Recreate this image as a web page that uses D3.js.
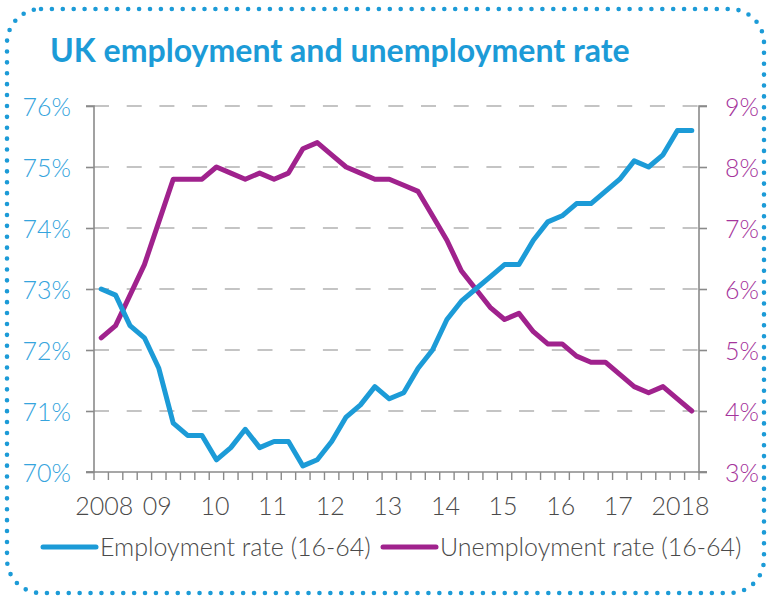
<!DOCTYPE html>
<html>
<head>
<meta charset="utf-8">
<script src="https://cdn.jsdelivr.net/npm/d3@7"></script>
<style>
  html, body { margin: 0; padding: 0; background: #fff; }
  svg { display: block; }
  text { font-family: Lato, "Open Sans", sans-serif; }
</style>
</head>
<body>
<svg id="chart" width="771" height="597"></svg>
<script>
// Quarterly series, 2008 Q1 onwards (42 quarters)
const employmentRate = [
  73.0, 72.9, 72.4, 72.2, 71.7, 70.8, 70.6, 70.6, 70.2, 70.4,
  70.7, 70.4, 70.5, 70.5, 70.1, 70.2, 70.5, 70.9, 71.1, 71.4,
  71.2, 71.3, 71.7, 72.0, 72.5, 72.8, 73.0, 73.2, 73.4, 73.4,
  73.8, 74.1, 74.2, 74.4, 74.4, 74.6, 74.8, 75.1, 75.0, 75.2,
  75.6, 75.6
];
const unemploymentRate = [
  5.2, 5.4, 5.9, 6.4, 7.1, 7.8, 7.8, 7.8, 8.0, 7.9,
  7.8, 7.9, 7.8, 7.9, 8.3, 8.4, 8.2, 8.0, 7.9, 7.8,
  7.8, 7.7, 7.6, 7.2, 6.8, 6.3, 6.0, 5.7, 5.5, 5.6,
  5.3, 5.1, 5.1, 4.9, 4.8, 4.8, 4.6, 4.4, 4.3, 4.4,
  4.2, 4.0
];
const quarters = d3.range(employmentRate.length);
const yearLabels = ["2008", "09", "10", "11", "12", "13", "14", "15", "16", "17", "2018"];
const leftTicks = [70, 71, 72, 73, 74, 75, 76];
const rightTicks = [3, 4, 5, 6, 7, 8, 9];
const seriesNames = ["Employment rate (16-64)", "Unemployment rate (16-64)"];

const BLUE = "#1c9bd7";
const PURPLE = "#a0228d";
const AXIS = "#8a8a8a";
const GRID = "#c4c4c4";
const TEXT = "#4a4a4a";

const svg = d3.select("#chart");
const margin = { left: 94, right: 72, top: 106, bottom: 125 };
const W = 771, H = 597;

// Dotted rounded frame
svg.append("rect")
  .attr("x", 7).attr("y", 9)
  .attr("width", W - 14).attr("height", H - 13)
  .attr("rx", 34).attr("ry", 34)
  .attr("fill", "none")
  .attr("stroke", BLUE)
  .attr("stroke-width", 4.6)
  .attr("stroke-linecap", "round")
  .attr("stroke-dasharray", "0,10.9");

// Title, sized to span its block
const title = svg.append("text")
  .attr("x", 50).attr("y", 62)
  .attr("fill", BLUE)
  .attr("font-weight", 700)
  .attr("font-size", 32)
  .text("UK employment and unemployment rate");
const tw = title.node().getComputedTextLength();
title.attr("font-size", 32 * 580 / tw);

const x = d3.scaleBand()
  .domain(quarters)
  .range([margin.left, W - margin.right])
  .paddingInner(0).paddingOuter(0);
const yL = d3.scaleLinear().domain([70, 76]).range([H - margin.bottom, margin.top]);
const yR = d3.scaleLinear().domain([3, 9]).range([H - margin.bottom, margin.top]);
const cx = i => x(i) + x.bandwidth() / 2;

const x0 = margin.left, x1 = W - margin.right;

// Dashed horizontal gridlines
svg.append("g").selectAll("line")
  .data(leftTicks.filter(t => t > 70))
  .join("line")
  .attr("x1", x0).attr("x2", x1)
  .attr("y1", d => yL(d)).attr("y2", d => yL(d))
  .attr("stroke", GRID)
  .attr("stroke-width", 2)
  .attr("stroke-dasharray", "15,17.7");

// Left axis
const leftAxis = svg.append("g")
  .attr("transform", `translate(${x0},0)`)
  .call(d3.axisLeft(yL).tickValues(leftTicks).tickSize(8).tickFormat(d => d + "%"));
leftAxis.select(".domain").attr("stroke", AXIS).attr("stroke-width", 1.6).attr("d", `M-8,${yL(76)}H0V${yL(70)}H-8`);
leftAxis.selectAll(".tick line").attr("stroke", AXIS).attr("stroke-width", 1.6);
leftAxis.selectAll(".tick text")
  .attr("x", -23).attr("dy", "0.36em")
  .attr("fill", "#35a4dd")
  .attr("font-size", 25).attr("font-weight", 300)
  .attr("font-family", "Lato, sans-serif");

// Right axis
const rightAxis = svg.append("g")
  .attr("transform", `translate(${x1},0)`)
  .call(d3.axisRight(yR).tickValues(rightTicks).tickSize(8).tickFormat(d => d + "%"));
rightAxis.select(".domain").attr("stroke", AXIS).attr("stroke-width", 1.6).attr("d", `M8,${yR(9)}H0V${yR(3)}H8`);
rightAxis.selectAll(".tick line").attr("stroke", AXIS).attr("stroke-width", 1.6);
rightAxis.selectAll(".tick text")
  .attr("x", 26).attr("dy", "0.36em")
  .attr("fill", "#a5349c")
  .attr("font-size", 25).attr("font-weight", 300)
  .attr("font-family", "Lato, sans-serif");

// Bottom axis with quarterly ticks at band edges
const bottom = svg.append("g");
bottom.append("line")
  .attr("x1", x0 - 8).attr("x2", x1 + 8)
  .attr("y1", yL(70)).attr("y2", yL(70))
  .attr("stroke", AXIS).attr("stroke-width", 1.6);
bottom.selectAll("line.qt")
  .data(d3.range(quarters.length + 1))
  .join("line")
  .attr("class", "qt")
  .attr("x1", i => x0 + i * x.bandwidth())
  .attr("x2", i => x0 + i * x.bandwidth())
  .attr("y1", yL(70)).attr("y2", yL(70) + 8)
  .attr("stroke", AXIS).attr("stroke-width", 1.4);
bottom.selectAll("text")
  .data(yearLabels)
  .join("text")
  .attr("x", (d, k) => cx(k * 4) + (d.length > 2 ? 3 : -1.5))
  .attr("y", 515)
  .attr("text-anchor", "middle")
  .attr("fill", TEXT)
  .attr("font-size", 25).attr("font-weight", 300)
  .text(d => d);

// Series lines
const lineL = d3.line().x((d, i) => cx(i)).y(d => yL(d));
const lineR = d3.line().x((d, i) => cx(i)).y(d => yR(d));

svg.append("path")
  .datum(unemploymentRate)
  .attr("d", lineR)
  .attr("fill", "none")
  .attr("stroke", PURPLE)
  .attr("stroke-width", 5)
  .attr("stroke-linejoin", "round")
  .attr("stroke-linecap", "round");

svg.append("path")
  .datum(employmentRate)
  .attr("d", lineL)
  .attr("fill", "none")
  .attr("stroke", BLUE)
  .attr("stroke-width", 5)
  .attr("stroke-linejoin", "round")
  .attr("stroke-linecap", "round");

// Legend
const legend = svg.append("g");
const legendY = 547;
const items = [
  { name: seriesNames[0], color: BLUE, lx0: 43, lx1: 96, tx: 100 },
  { name: seriesNames[1], color: PURPLE, lx0: 383, lx1: 436, tx: 440 }
];
items.forEach(it => {
  legend.append("line")
    .attr("x1", it.lx0).attr("x2", it.lx1)
    .attr("y1", legendY).attr("y2", legendY)
    .attr("stroke", it.color).attr("stroke-width", 5)
    .attr("stroke-linecap", "round");
  legend.append("text")
    .attr("x", it.tx).attr("y", legendY)
    .attr("dy", "0.36em")
    .attr("fill", TEXT)
    .attr("font-size", 25).attr("font-weight", 300)
    .text(it.name);
});
</script>
</body>
</html>
